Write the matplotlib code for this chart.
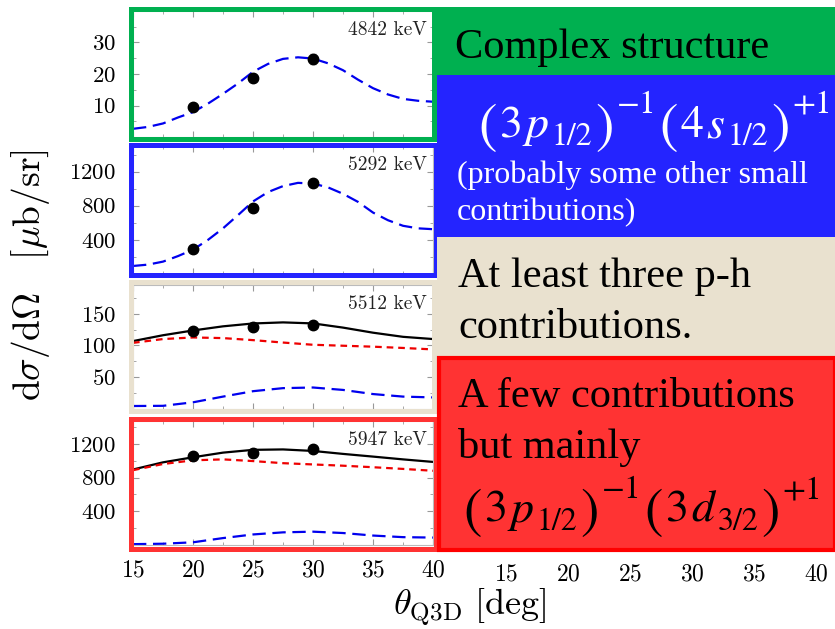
import matplotlib
matplotlib.use("Agg")
import matplotlib.pyplot as plt
from matplotlib.patches import Rectangle
from matplotlib.ticker import MultipleLocator

plt.rcParams['font.family'] = 'cmr10'
plt.rcParams['mathtext.fontset'] = 'cm'
plt.rcParams['axes.formatter.use_mathtext'] = True

W, H = 835, 629

# Data
theta_pts = [20, 25, 30]
theta_fine = [15, 16.25, 17.5, 18.75, 20, 21.25, 22.5, 23.75, 25, 26.25, 27.5,
              28.75, 30, 31.25, 32.5, 33.75, 35, 36.25, 37.5, 38.75, 40]
theta_coarse = [15, 17.5, 20, 22.5, 25, 27.5, 30, 32.5, 35, 37.5, 40]

# 4842 keV
pts_4842 = [9.4, 18.8, 24.8]
err_4842 = [0.4, 0.6, 1.6]
blue_4842 = [2.6, 3.2, 4.3, 6.2, 7.9, 10.6, 13.7, 17.0, 20.7, 23.2, 24.8,
             25.3, 24.9, 23.4, 21.2, 18.2, 15.5, 13.5, 12.1, 11.5, 11.2]

# 5292 keV
pts_5292 = [298, 769, 1063]
blue_5292 = [94, 110, 145, 210, 285, 400, 535, 690, 850, 960, 1030,
             1068, 1060, 1015, 940, 845, 720, 630, 565, 535, 525]

# 5512 keV
pts_5512 = [123.4, 129.7, 132.3]
black_5512 = [106.8, 116, 123.5, 130, 134.5, 136.2, 134.6, 128, 120, 113.5, 110]
red_5512 = [104, 110, 112.5, 111.5, 108.3, 104.5, 101, 99.5, 98, 96, 93.7]
blue_5512 = [4.7, 5.0, 10.5, 19.5, 28, 32.8, 33.8, 30, 23.5, 19.5, 18.2]

# 5947 keV
pts_5947 = [1051, 1094, 1133]
black_5947 = [895, 980, 1040, 1095, 1128, 1133, 1115, 1080, 1048, 1015, 985]
red_5947 = [887, 960, 1004, 1015, 995, 970, 955, 940, 922, 902, 880]
blue_5947 = [10, 15, 32, 82, 125, 150, 158, 142, 112, 93, 88]

GREEN = '#00b050'
BLUE = '#2424ff'
BEIGE = '#e9e1cf'
RED = '#ff3333'


def fig_rect(x0, y0, x1, y1):
    return [x0 / W, 1 - y1 / H, (x1 - x0) / W, (y1 - y0) / H]


fig = plt.figure(figsize=(W / 100, H / 100), dpi=100)

# right-hand axis sitting under the text boxes (only its tick labels show)
axr = fig.add_axes(fig_rect(506, 300, 816, 545))
axr.set_xlim(15, 40)
axr.set_yticks([])
axr.set_xticks([15, 20, 25, 30, 35, 40])
axr.tick_params(axis='x', length=0, labelsize=17, pad=13)
for s in axr.spines.values():
    s.set_visible(False)


def style(ax, ylim, major, minor, bottom_labels):
    ax.set_xlim(15, 40)
    ax.set_ylim(*ylim)
    ax.xaxis.set_major_locator(MultipleLocator(5))
    ax.xaxis.set_minor_locator(MultipleLocator(2.5))
    ax.yaxis.set_major_locator(MultipleLocator(major))
    ax.yaxis.set_minor_locator(MultipleLocator(minor))
    ax.tick_params(which='both', direction='in', top=True, right=True,
                   color='#999999', labelsize=16.5)
    ax.tick_params(which='major', length=4)
    ax.tick_params(which='minor', length=2.5)
    ax.tick_params(axis='y', pad=12)
    ax.tick_params(axis='x', pad=10, labelbottom=bottom_labels, labelsize=17)
    for s in ax.spines.values():
        s.set_color('#bbbbbb')
    # no tick label at the bottom edge or right at the top
    ticks = [t for t in ax.get_yticks() if ylim[0] < t < ylim[1] - 0.05 * (ylim[1] - ylim[0])]
    ax.set_yticks(ticks)


def label(ax, txt):
    ax.text(0.98, 0.92, txt, transform=ax.transAxes, ha='right', va='top',
            fontsize=14, color='#222222')


blue_dash = dict(color='#0000ee', lw=1.6, dashes=(6, 3))
red_dash = dict(color='#ee0000', lw=1.6, dashes=(3, 2.2))
black_line = dict(color='black', lw=1.6)
point_style = dict(fmt='o', color='black', ms=7.5, ecolor='#888888',
                   elinewidth=1.2, capsize=2, zorder=5)

# panel 1
ax1 = fig.add_axes(fig_rect(133, 11, 433, 137))
ax1.plot(theta_fine, blue_4842, **blue_dash)
ax1.errorbar(theta_pts, pts_4842, yerr=err_4842, **point_style)
style(ax1, (0, 40), 10, 5, False)
label(ax1, '4842 keV')

# panel 2
ax2 = fig.add_axes(fig_rect(133, 146, 433, 274))
ax2.plot(theta_fine, blue_5292, **blue_dash)
ax2.errorbar(theta_pts, pts_5292, **point_style)
style(ax2, (0, 1500), 400, 200, False)
label(ax2, '5292 keV')

# panel 3
ax3 = fig.add_axes(fig_rect(133, 285, 433, 409))
ax3.plot(theta_coarse, black_5512, **black_line)
ax3.plot(theta_coarse, red_5512, **red_dash)
ax3.plot(theta_coarse, blue_5512, **blue_dash)
ax3.errorbar(theta_pts, pts_5512, **point_style)
style(ax3, (0, 195), 50, 25, False)
label(ax3, '5512 keV')

# panel 4
ax4 = fig.add_axes(fig_rect(133, 421, 433, 545))
ax4.plot(theta_coarse, black_5947, **black_line)
ax4.plot(theta_coarse, red_5947, **red_dash)
ax4.plot(theta_coarse, blue_5947, **blue_dash)
ax4.errorbar(theta_pts, pts_5947, **point_style)
style(ax4, (0, 1470), 400, 200, True)
label(ax4, '5947 keV')

# coloured frames round the panels
frames = [((130.5, 8.5, 434.5, 138.5), GREEN),
          ((130.5, 144.5, 435.5, 274.5), BLUE),
          ((130.5, 282, 434.5, 411), BEIGE),
          ((130.5, 418.5, 436, 549), RED)]
for (x0, y0, x1, y1), c in frames:
    r = fig_rect(x0, y0, x1, y1)
    fig.add_artist(Rectangle((r[0], r[1]), r[2], r[3], fill=False, edgecolor=c,
                             lw=3.6, transform=fig.transFigure, zorder=10))

# text boxes on the right
boxes = [((437, 7, 835, 75), GREEN, 'none'),
         ((437, 75, 835, 237), BLUE, 'none'),
         ((437, 237, 835, 356), BEIGE, 'none'),
         ((439, 358, 835, 550), RED, '#ff0000')]
for (x0, y0, x1, y1), c, ec in boxes:
    r = fig_rect(x0, y0, x1, y1)
    fig.add_artist(Rectangle((r[0], r[1]), r[2], r[3], facecolor=c, edgecolor=ec,
                             lw=3 if ec != 'none' else 0,
                             transform=fig.transFigure, zorder=11))

serif = ['Liberation Serif', 'DejaVu Serif']


def ftext(x, y, s, **kw):
    return fig.text(x / W, 1 - y / H, s, zorder=12, **kw)


renderer = fig.canvas.get_renderer()


def math_row(x, y, pieces, color):
    # pieces: (text, size, raise in px, italic)
    for s, size, dy, italic in pieces:
        t = ftext(x, y - dy, s, fontsize=size, family='STIXGeneral',
                  style='italic' if italic else 'normal', color=color,
                  va='baseline')
        x += t.get_window_extent(renderer).width + 3


def orbital_pieces(a, b, c):
    # (a b_c) pieces
    return [('(', 40, -5, False), (a, 33, 0, False), (b, 33, 0, True),
            (c, 23, -8, False), (')', 40, -5, False)]


ftext(455, 58, 'Complex structure', fontsize=30.5, family=serif, va='baseline')
math_row(478, 137, orbital_pieces('3', 'p', '1/2') + [('\u22121', 24, 24, False)]
         + orbital_pieces('4', 's', '1/2') + [('+1', 24, 24, False)], 'white')
ftext(457, 183, '(probably some other small', fontsize=23, family=serif,
      color='white', va='baseline')
ftext(457, 220, 'contributions)', fontsize=23, family=serif,
      color='white', va='baseline')
ftext(458, 287, 'At least three p-h', fontsize=30.5, family=serif, va='baseline')
ftext(458, 338, 'contributions.', fontsize=30.5, family=serif, va='baseline')
ftext(458, 407, 'A few contributions', fontsize=30.5, family=serif, va='baseline')
ftext(458, 458, 'but mainly', fontsize=30.5, family=serif, va='baseline')
math_row(463, 522, orbital_pieces('3', 'p', '1/2') + [('\u22121', 24, 24, False)]
         + orbital_pieces('3', 'd', '3/2') + [('+1', 24, 24, False)], 'black')

# axis titles
fig.text(31 / W, 1 - 275 / H, r'$\mathrm{d}\sigma/\mathrm{d}\Omega\ \ \ [\mu\mathrm{b/sr}]$',
         rotation=90, ha='center', va='center', fontsize=27)
fig.text(470 / W, 1 - 607 / H, r'$\theta_{\mathrm{Q3D}}\ [\mathrm{deg}]$',
         ha='center', va='center', fontsize=26)

fig.savefig('out.png', dpi=100)
